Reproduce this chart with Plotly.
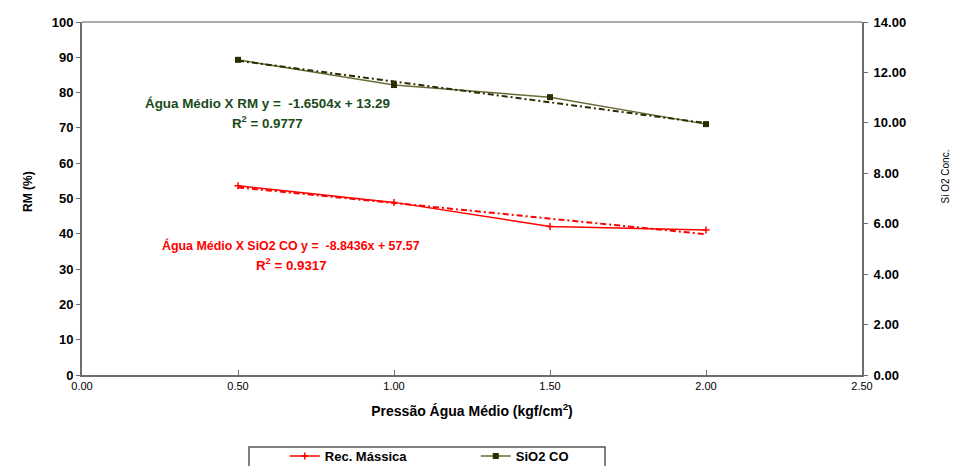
import plotly.graph_objects as go

# Data
x_vals = [0.5, 1.0, 1.5, 2.0]
rec_massica = [53.6, 48.9, 42.1, 41.1]      # left axis RM (%)
sio2_co = [12.50, 11.50, 11.02, 9.95]       # right axis SiO2 Conc.
trend_rm = (-8.8436, 57.57)                 # slope, intercept (red)
trend_sio2 = (-1.6504, 13.29)               # slope, intercept (green)

red = "#ff0000"
olive = "#6b6b3a"
dark = "#2b2b00"
green_txt = "#1a4a1a"
FONT = "Liberation Sans, Arial, sans-serif"
NARROW = "Liberation Sans Narrow, Arial Narrow, Liberation Sans, sans-serif"

fig = go.Figure()

fig.add_trace(go.Scatter(
    x=x_vals, y=rec_massica, name="Rec. Mássica", mode="lines+markers",
    line=dict(color=red, width=1.5),
    marker=dict(symbol="cross-thin", size=5, color=red, line=dict(color=red, width=1.5)),
    yaxis="y"))
fig.add_trace(go.Scatter(
    x=x_vals, y=sio2_co, name="SiO2 CO", mode="lines+markers",
    line=dict(color=olive, width=1.5), marker=dict(symbol="square", size=6, color=dark),
    yaxis="y2"))

tx = [x_vals[0], x_vals[-1]]
fig.add_trace(go.Scatter(
    x=tx, y=[trend_rm[0] * v + trend_rm[1] for v in tx], mode="lines", showlegend=False,
    line=dict(color=red, width=2, dash="6px,3px,2px,3px"), yaxis="y", hoverinfo="skip"))
fig.add_trace(go.Scatter(
    x=tx, y=[trend_sio2[0] * v + trend_sio2[1] for v in tx], mode="lines", showlegend=False,
    line=dict(color=dark, width=2, dash="6px,3px,2px,3px"), yaxis="y2", hoverinfo="skip"))

axis_col = "#6e6e6e"
fig.update_layout(
    width=959, height=466,
    margin=dict(l=82, r=97, t=22, b=91, autoexpand=False),
    plot_bgcolor="white", paper_bgcolor="white",
    font=dict(family=FONT, color="black"),
    xaxis=dict(range=[0, 2.5], dtick=0.5, tickformat=".2f", showgrid=False, zeroline=False,
               showline=True, linecolor=axis_col, linewidth=2, ticks="inside", ticklen=5,
               tickcolor=axis_col, tickfont=dict(family=NARROW, size=11),
               title=dict(text="<b>Pressão Água Médio (kgf/cm<sup>2</sup>)</b>", font=dict(size=14), standoff=15)),
    yaxis=dict(range=[0, 100], dtick=10, showgrid=False, zeroline=False,
               showline=True, linecolor=axis_col, linewidth=2, ticks="outside", ticklen=4,
               tickcolor=axis_col, tickfont=dict(size=13, weight="bold")),
    yaxis2=dict(range=[0, 14], dtick=2, tickformat=".2f", overlaying="y", side="right",
                showgrid=False, zeroline=False, showline=True, linecolor=axis_col, linewidth=2,
                ticks="outside", ticklen=4, tickcolor=axis_col, tickfont=dict(size=13, weight="bold"),
                ticklabelstandoff=3),
    showlegend=True,
    legend=dict(orientation="h", x=0.26, y=(375 - 441) / 353, xanchor="left", yanchor="top",
                bgcolor="rgba(0,0,0,0)", borderwidth=0, entrywidth=146, entrywidthmode="pixels",
                font=dict(size=13, weight="bold")),
)

# top border and legend box
fig.add_shape(type="line", xref="paper", yref="paper", x0=0, x1=1, y0=1, y1=1,
              line=dict(color="#aaaaaa", width=2))
fig.add_shape(type="rect", xref="paper", yref="paper", x0=(249 - 82) / 780, x1=(605 - 82) / 780,
              y0=(375 - 480) / 353, y1=(375 - 447) / 353, line=dict(color="#555555", width=1.5))

# axis titles
fig.add_annotation(text="<b>RM (%)</b>", xref="paper", yref="paper", x=(19 - 82) / 780,
                   y=(375 - 192) / 353, showarrow=False, textangle=-90, font=dict(size=12))
fig.add_annotation(text="Si O2 Conc.", xref="paper", yref="paper", x=(952 - 82) / 780,
                   y=(375 - 177) / 353, showarrow=False, textangle=-90, font=dict(size=10))

ann = [
    ("<b>Água Médio X RM y =  -1.6504x + 13.29</b>", 0.593, 77.05, green_txt, 13.4),
    ("<b>R<sup>2</sup> = 0.9777</b>", 0.593, 71.4, green_txt, 13.3),
    ("<b>Água Médio X SiO2 CO y =  -8.8436x + 57.57</b>", 0.671, 36.8, red, 12.4),
    ("<b>R<sup>2</sup> = 0.9317</b>", 0.673, 31.2, red, 13.3),
]
for t, ax_, ay_, c, s in ann:
    fig.add_annotation(text=t, x=ax_, y=ay_, xref="x", yref="y", showarrow=False,
                       font=dict(size=s, color=c))

fig.write_html("out.html")
